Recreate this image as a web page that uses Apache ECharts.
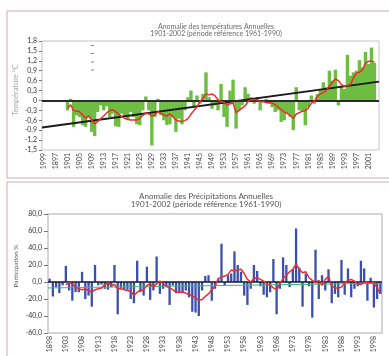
<!DOCTYPE html>
<html><head><meta charset="utf-8">
<script src="https://cdn.jsdelivr.net/npm/echarts@6/dist/echarts.min.js"></script>
<style>html,body{margin:0;padding:0;background:#fff}#c{width:389px;height:356px}</style>
</head><body><div id="c"></div>
<script>
// ---- Temperature panel ----
const tempYears = [];
for (let y = 1893; y <= 2004; y++) tempYears.push(String(y));
const tempTickLabels = ['1999','1897','1901','1905','1909','1913','1917','1921','1925','1929','1933','1937','1941','1945','1949','1953','1957','1961','1965','1969','1973','1977','1981','1985','1989','1993','1997','2001'];
const tempAnomaly = [null,null,null,null,null,null,null,null,
 -0.3,0.05,-0.8,-0.45,-0.5,-0.75,-0.8,-0.5,-0.95,-1.08,
 -0.35,-0.15,-0.3,-0.18,-0.5,-0.4,-0.78,-0.8,-0.4,-0.5,
 -0.6,-0.35,-0.5,-0.72,-0.75,-0.3,0.12,-0.3,-1.36,-0.5,
 0.05,-0.45,-0.6,-0.74,-0.72,-0.5,-0.95,-0.55,-0.72,-0.3,
 0.1,0.3,-0.2,0.15,-0.1,0.2,0.85,0.1,-0.25,-0.15,
 -0.3,0.5,-0.5,-0.8,0.3,0.63,-0.85,-0.3,-0.15,0.4,
 0.2,0.1,-0.1,0.1,-0.3,-0.05,0.05,-0.1,-0.2,-0.35,
 -0.3,-0.65,-0.6,-0.4,-0.5,-0.9,0.4,-0.3,-0.35,-0.75,
 -0.2,0.15,-0.1,0.2,0.35,0.55,0.4,0.9,0.6,0.93,
 -0.15,0.45,0.35,1.38,0.75,0.85,0.9,1.22,1.0,1.47,
 1.1,1.6,1.14,null];
const tempMovingAvg = [null,null,null,null,null,null,null,null,
 -0.23,-0.13,-0.3,-0.32,-0.34,-0.44,-0.54,-0.47,-0.6,-0.71,
 -0.64,-0.55,-0.47,-0.38,-0.3,-0.28,-0.34,-0.42,-0.49,-0.54,
 -0.57,-0.59,-0.59,-0.59,-0.54,-0.45,-0.37,-0.41,-0.47,-0.44,
 -0.34,-0.39,-0.44,-0.47,-0.41,-0.49,-0.59,-0.62,-0.64,-0.61,
 -0.55,-0.42,-0.3,-0.2,-0.03,0.07,0.2,0.17,0.2,0.14,
 0.02,-0.03,-0.06,-0.13,-0.1,-0.08,-0.37,-0.3,-0.23,-0.16,
 -0.03,0.02,0.03,0.02,-0.03,-0.04,-0.06,-0.07,-0.08,-0.13,
 -0.2,-0.28,-0.35,-0.39,-0.45,-0.54,-0.41,-0.37,-0.33,-0.3,
 -0.23,-0.08,-0.03,0.12,0.2,0.24,0.3,0.43,0.55,0.65,
 0.6,0.48,0.43,0.45,0.48,0.68,0.83,0.85,0.93,1.12,
 1.19,1.19,1.16,null];
const tempTrendEnds = [-0.82, 0.57];
const tempYTicks = {min: -1.5, max: 1.8, step: 0.3};

// ---- Precipitation panel ----
const precipYears = [];
for (let y = 1898; y <= 2000; y++) precipYears.push(String(y));
const precipTickLabels = ['1898','1903','1908','1913','1918','1923','1928','1933','1938','1943','1948','1953','1958','1963','1968','1973','1978','1983','1988','1993','1998'];
const precipAnomaly = [4,-17,-6,-13,-4,19,-10,-22,-12,-12,
 12,-20,-16,-29,20,-4,-3,-8,-9,-6,
 20,-38,-8,-9,-9,-20,-25,25,-12,-16,
 18,-21,-10,30,-14,-8,-6,-27,-4,-13,
 -13,-12,-10,-18,-35,-36,-40,-10,7,8,
 -22,-8,4,45,-4,8,10,36,20,12,
 -16,-27,-8,20,13,-5,-15,-18,-12,27,
 -38,-8,29,20,-6,15,63,17,-29,10,
 -5,-42,38,-20,8,-10,15,-25,-14,-18,
 26,-15,16,-18,-8,-5,25,16,-22,5,
 -30,-20,-14];
const precipMovingAvg = [null,null,null,null,null,-3,-1,-2,-6,-8,
 -9,-8,-10,-12,-9,-8,-7,-3,-1,-4,
 -3,-8,-8,-9,-10,-11,-16,-12,-10,-9,
 -4,-2,-6,-2,1,-2,-5,-7,-9,-12,
 -12,-12,-13,-15,-16,-19,-21,-21,-17,-14,
 -9,-5,4,6,7,9,14,13,14,15,
 10,3,0,4,5,3,1,-2,-4,-7,
 -9,-2,4,8,12,15,21,15,11,12,
 5,2,-1,2,-4,3,7,-5,-7,-7,
 -6,-1,2,3,1,-2,-3,0,-1,-1,
 -1,-7,-14];
const precipTrendEnds = [-7, -1.5];
const precipYTicks = {min: -60, max: 80, step: 20};

const FONT = 'Lato';
const chart = echarts.init(document.getElementById('c'), null, {renderer: 'canvas'});

const option = {
  animation: false,
  backgroundColor: '#ffffff',
  title: [
    {text: 'Anomalie des températures Annuelles\n1901-2002 (période référence 1961-1990)',
     left: 211, top: 18.5, textAlign: 'center',
     textStyle: {fontFamily: FONT, fontSize: 7, lineHeight: 7, color: '#6a6a6a', fontWeight: 'normal'}},
    {text: 'Anomalie des Précipitations Annuelles\n1901-2002 (période référence 1961-1990)',
     left: 201, top: 187, textAlign: 'center',
     textStyle: {fontFamily: FONT, fontSize: 8, lineHeight: 8.5, color: '#555', fontWeight: 'normal'}}
  ],
  grid: [
    {left: 42, top: 41, width: 337, height: 109, show: true, borderColor: '#c4c4c4', borderWidth: 1, backgroundColor: 'transparent'},
    {left: 48, top: 214, width: 334, height: 119, show: true, borderColor: '#c8c8c8', borderWidth: 1.5, backgroundColor: 'transparent'}
  ],
  xAxis: [
    {type: 'category', gridIndex: 0, data: tempYears, boundaryGap: true,
     axisLine: {show: false}, axisTick: {show: false},
     axisLabel: {interval: 3, rotate: 90, margin: 3, fontSize: 7, fontFamily: FONT, color: '#444',
       formatter: (v, i) => tempTickLabels[i / 4] || ''}},
    {type: 'value', gridIndex: 0, min: 0, max: 1, show: false},
    {type: 'category', gridIndex: 1, data: precipYears, boundaryGap: true,
     axisLine: {show: false}, axisTick: {show: false},
     axisLabel: {interval: 4, rotate: 90, margin: 3, fontSize: 7, fontFamily: FONT, color: '#444',
       formatter: (v, i) => precipTickLabels[i / 5] || ''}},
    {type: 'value', gridIndex: 1, min: 0, max: 1, show: false}
  ],
  yAxis: [
    {type: 'value', gridIndex: 0, min: tempYTicks.min, max: tempYTicks.max, interval: tempYTicks.step,
     axisLine: {show: false}, splitLine: {show: false},
     axisTick: {show: true, length: 3, lineStyle: {color: '#777'}},
     axisLabel: {fontSize: 7, fontFamily: FONT, color: '#333', margin: 5,
       formatter: v => v.toFixed(1).replace('.', ',').replace('-0,0', '0').replace(/^0,0$/, '0')}},
    {type: 'value', gridIndex: 1, min: precipYTicks.min, max: precipYTicks.max, interval: precipYTicks.step,
     axisLine: {show: false}, splitLine: {show: false},
     axisTick: {show: true, length: 4, lineStyle: {color: '#777'}},
     axisLabel: {fontSize: 7, fontFamily: FONT, color: '#333', margin: 6,
       formatter: v => v.toFixed(1).replace('.', ',')}}
  ],
  series: [
    {type: 'bar', xAxisIndex: 0, yAxisIndex: 0, data: tempAnomaly, barWidth: 3.4,
     itemStyle: {color: '#6dbd43'}, z: 2,
     markLine: {silent: true, symbol: 'none', label: {show: false},
       lineStyle: {color: '#2a2a2a', width: 2, type: 'solid'}, data: [{yAxis: 0}]}},
    {type: 'line', xAxisIndex: 1, yAxisIndex: 0, data: [[0, tempTrendEnds[0]], [1, tempTrendEnds[1]]],
     symbol: 'none', lineStyle: {color: '#1a1a1a', width: 2}, z: 4},
    {type: 'line', xAxisIndex: 0, yAxisIndex: 0, data: tempMovingAvg, symbol: 'none',
     lineStyle: {color: '#f02a2a', width: 1.5}, z: 5},

    {type: 'bar', xAxisIndex: 2, yAxisIndex: 1, data: precipAnomaly, barWidth: 2.3,
     itemStyle: {color: '#3a4fae'}, z: 2,
     markLine: {silent: true, symbol: 'none', label: {show: false},
       lineStyle: {color: '#141830', width: 1.5, type: 'solid'}, data: [{yAxis: 0}]}},
    {type: 'line', xAxisIndex: 3, yAxisIndex: 1, data: [[0, precipTrendEnds[0]], [1, precipTrendEnds[1]]],
     symbol: 'none', lineStyle: {color: '#3cb878', width: 1}, z: 4},
    {type: 'line', xAxisIndex: 2, yAxisIndex: 1, data: precipMovingAvg, symbol: 'none',
     lineStyle: {color: '#f02a2a', width: 1.5}, z: 5}
  ],
  graphic: [
    {type: 'rect', shape: {x: 7, y: 11, width: 400, height: 167}, style: {fill: 'none', stroke: '#d9a7b0', lineWidth: 1}, silent: true},
    {type: 'rect', shape: {x: 7, y: 182, width: 400, height: 200}, style: {fill: 'none', stroke: '#d9a7b0', lineWidth: 1}, silent: true},
    {type: 'line', shape: {x1: 91, y1: 45.5, x2: 94, y2: 45.5}, style: {stroke: '#888', lineWidth: 1}, silent: true},
    {type: 'line', shape: {x1: 91, y1: 53.5, x2: 94, y2: 53.5}, style: {stroke: '#888', lineWidth: 1}, silent: true},
    {type: 'line', shape: {x1: 91, y1: 62, x2: 94, y2: 62}, style: {stroke: '#888', lineWidth: 1}, silent: true},
    {type: 'line', shape: {x1: 91, y1: 70, x2: 94, y2: 70}, style: {stroke: '#888', lineWidth: 1}, silent: true},
    {type: 'text', x: 16, y: 90, rotation: Math.PI / 2,
     style: {text: 'Température °C', fill: '#a8a8a8', font: '7.5px Lato', textAlign: 'center', textVerticalAlign: 'middle', align: 'center', verticalAlign: 'middle'}, silent: true},
    {type: 'text', x: 16, y: 266, rotation: Math.PI / 2,
     style: {text: 'Participation %', fill: '#555', font: '6.5px Lato', textAlign: 'center', textVerticalAlign: 'middle', align: 'center', verticalAlign: 'middle'}, silent: true}
  ]
};
chart.setOption(option);
</script>
</body></html>
